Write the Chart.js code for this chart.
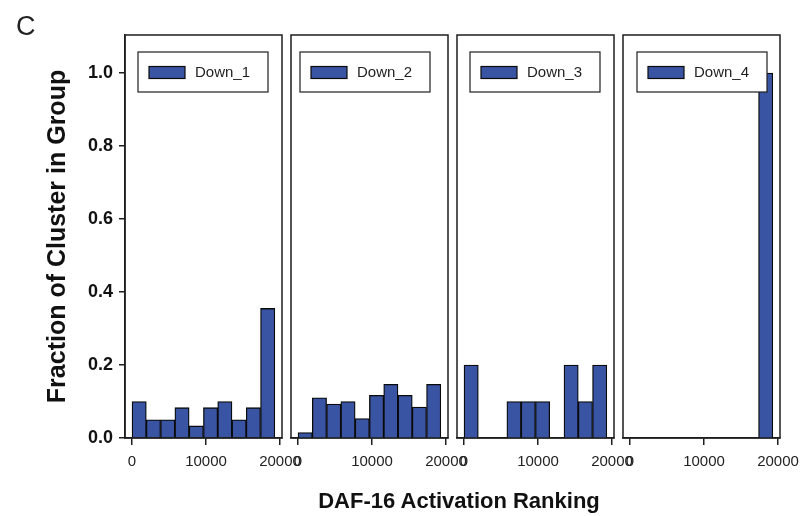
<!DOCTYPE html>
<html>
<head>
<meta charset="utf-8">
<title>DAF-16 Activation Ranking by cluster</title>
<script src="https://cdn.jsdelivr.net/npm/chart.js@4.4.1/dist/chart.umd.min.js"></script>
<style>
  html, body { margin: 0; padding: 0; background: #ffffff; }
  #fig { position: relative; width: 802px; height: 516px; overflow: hidden;
         font-family: "Liberation Sans", Arial, sans-serif; background: #ffffff; }
  #fig canvas { position: absolute; left: 0; top: 0; }
  #tag { position: absolute; left: 16px; top: 10px; font-size: 27px; line-height: 32px; color: #222; }
  #xtitle { position: absolute; left: 259px; width: 400px; top: 488px; text-align: center;
            font-size: 22px; line-height: 26px; font-weight: bold; color: #111; }
</style>
</head>
<body>
<div id="fig">
  <canvas id="p0" width="802" height="516"></canvas>
  <canvas id="p1" width="802" height="516"></canvas>
  <canvas id="p2" width="802" height="516"></canvas>
  <canvas id="p3" width="802" height="516"></canvas>
  <div id="tag">C</div>
  <div id="xtitle">DAF-16 Activation Ranking</div>
</div>
<script>
// Histogram bins over the activation ranking (centres of 10 equal bins)
const binCenters = [965, 2895, 4825, 6755, 8685, 10615, 12545, 14475, 16405, 18335];

// Cluster names, one panel each
const groups = ['Down_1', 'Down_2', 'Down_3', 'Down_4'];

// Fraction of each cluster falling in every bin
const down1 = [0.100, 0.050, 0.050, 0.083, 0.033, 0.083, 0.100, 0.050, 0.083, 0.355];
const down2 = [0.015, 0.110, 0.093, 0.100, 0.053, 0.117, 0.147, 0.117, 0.085, 0.147];
const down3 = [0.200, 0.000, 0.000, 0.100, 0.100, 0.100, 0.000, 0.200, 0.100, 0.200];
const down4 = [0.000, 0.000, 0.000, 0.000, 0.000, 0.000, 0.000, 0.000, 0.000, 1.000];

// Tick values
const xTicks = [0, 10000, 20000];
const yTicks = [0, 0.2, 0.4, 0.6, 0.8, 1.0];

const series = [down1, down2, down3, down4];

// ---- layout / styling ----
const FONT = '"Liberation Sans", Arial, sans-serif';
Chart.defaults.font.family = FONT;
const BAR_FILL = '#3a54a4';
const INK = '#1e1e1e';
const panelLeft = [125, 291, 457, 623];
const PANEL_W = 157;
const PLOT_TOP = 35, PLOT_BOTTOM = 438, CANVAS_W = 802, CANVAS_H = 516;
const X_AXIS_H = 40;
const Y_AXIS_LEFT = 30;
const legendInset = [13, 9, 13, 14];

// box around each panel
const framePlugin = {
  id: 'frame',
  afterDraw(chart) {
    const { ctx, chartArea: a } = chart;
    ctx.save();
    ctx.strokeStyle = INK;
    ctx.lineWidth = 1.5;
    ctx.strokeRect(a.left, a.top, a.right - a.left, a.bottom - a.top);
    ctx.restore();
  }
};

// legend box in the upper-left corner of each panel, drawn over the bars
const legendBoxPlugin = {
  id: 'legendBox',
  afterDatasetsDraw(chart, args, opts) {
    const { ctx, chartArea: a } = chart;
    const ds = chart.data.datasets[0];
    const x = a.left + opts.inset, y = a.top + 17, w = 130, h = 40;
    ctx.save();
    ctx.fillStyle = '#ffffff';
    ctx.fillRect(x, y, w, h);
    ctx.strokeStyle = INK;
    ctx.lineWidth = 1.2;
    ctx.strokeRect(x, y, w, h);
    ctx.fillStyle = ds.backgroundColor;
    ctx.fillRect(x + 11, y + 14.5, 36, 12);
    ctx.lineWidth = 1.2;
    ctx.strokeStyle = '#0a0a0a';
    ctx.strokeRect(x + 11, y + 14.5, 36, 12);
    ctx.fillStyle = INK;
    ctx.font = '15px ' + FONT;
    ctx.textBaseline = 'middle';
    ctx.textAlign = 'left';
    ctx.fillText(ds.label, x + 57, y + h / 2 + 0.5);
    ctx.restore();
  }
};

groups.forEach((name, i) => {
  const vals = series[i];
  const first = i === 0;
  const left = panelLeft[i];
  new Chart(document.getElementById('p' + i), {
    type: 'bar',
    data: {
      datasets: [{
        label: name,
        data: binCenters.map((x, k) => ({ x: x, y: vals[k] })),
        backgroundColor: BAR_FILL,
        borderColor: '#0a0a0a',
        borderWidth: 1.3,
        barPercentage: 1,
        categoryPercentage: 1
      }]
    },
    options: {
      responsive: false,
      animation: false,
      devicePixelRatio: 1,
      layout: {
        padding: {
          left: first ? Y_AXIS_LEFT : left,
          right: CANVAS_W - (left + PANEL_W),
          top: PLOT_TOP,
          bottom: CANVAS_H - PLOT_BOTTOM - X_AXIS_H
        }
      },
      plugins: {
        legend: { display: false },
        tooltip: { enabled: false },
        legendBox: { inset: legendInset[i] }
      },
      scales: {
        x: {
          type: 'linear',
          offset: false,
          min: -950,
          max: 20270,
          afterBuildTicks: s => { s.ticks = xTicks.map(v => ({ value: v })); },
          // tick labels may spill past the panel edge; keep the panel width fixed
          afterFit: s => { s.height = X_AXIS_H; s.paddingLeft = 0; s.paddingRight = 0; },
          grid: { offset: false, drawOnChartArea: false, drawTicks: true, tickLength: 7, color: INK, lineWidth: 1.5 },
          border: { display: true, color: INK, width: 1.5 },
          ticks: {
            autoSkip: false, maxRotation: 0, padding: 8, color: '#222',
            font: { size: 15 },
            callback: v => String(v)
          }
        },
        y: {
          display: first,
          min: 0,
          max: 1.104,
          afterBuildTicks: s => { s.ticks = yTicks.map(v => ({ value: v })); },
          afterFit: s => { if (first) s.width = left - Y_AXIS_LEFT; },
          grid: { drawOnChartArea: false, drawTicks: true, tickLength: 6, color: INK, lineWidth: 1.5 },
          border: { display: true, color: INK, width: 1.5 },
          ticks: {
            padding: 6, color: '#111',
            font: { size: 18, weight: 'bold' },
            callback: v => Number(v).toFixed(1)
          },
          title: {
            display: true,
            text: 'Fraction of Cluster in Group',
            color: '#111',
            font: { size: 25, weight: 'bold' },
            padding: { top: 13, bottom: 0 }
          }
        }
      }
    },
    plugins: [legendBoxPlugin, framePlugin]
  });
});
</script>
</body>
</html>
